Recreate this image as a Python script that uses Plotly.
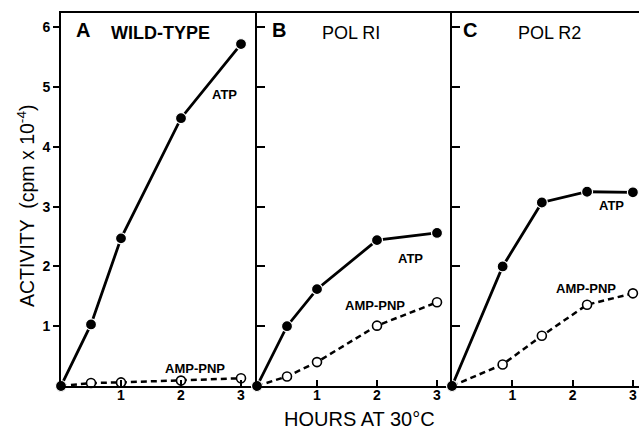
import plotly.graph_objects as go

# ---- data ----
hours_a = [0, 0.5, 1, 2, 3]
atp_a = [0, 1.03, 2.47, 4.48, 5.72]
amp_a = [0, 0.05, 0.06, 0.09, 0.13]

hours_b = [0, 0.5, 1, 2, 3]
atp_b = [0, 1.0, 1.62, 2.44, 2.56]
amp_b = [0, 0.16, 0.40, 1.01, 1.40]

hours_c = [0, 0.84, 1.49, 2.24, 3.0]
atp_c = [0, 2.0, 3.07, 3.25, 3.24]
amp_c = [0, 0.36, 0.84, 1.36, 1.55]

panel_letters = ["A", "B", "C"]
panel_names = ["WILD-TYPE", "POL RI", "POL R2"]
x_ticks = [1, 2, 3]
x_tick_labels = ["1", "2", "3"]
y_ticks = [1, 2, 3, 4, 5, 6]
y_tick_labels = ["1", "2", "3", "4", "5", "6"]

FONT = "Liberation Sans, Arial, sans-serif"

fig = go.Figure()

panels = [
    (hours_a, atp_a, amp_a, "x", "y"),
    (hours_b, atp_b, amp_b, "x2", "y2"),
    (hours_c, atp_c, amp_c, "x3", "y3"),
]
for hx, atp, amp, xa, ya in panels:
    fig.add_trace(go.Scatter(
        x=hx, y=amp, xaxis=xa, yaxis=ya, mode="lines+markers",
        line=dict(color="black", width=2.5, dash="6px,4px"),
        marker=dict(symbol="circle", size=9, color="white",
                    line=dict(color="black", width=1.6)),
        showlegend=False, cliponaxis=False))
    fig.add_trace(go.Scatter(
        x=hx, y=atp, xaxis=xa, yaxis=ya, mode="lines+markers",
        line=dict(color="black", width=2.8),
        marker=dict(symbol="circle", size=11, color="black",
                    line=dict(color="white", width=1.2)),
        showlegend=False, cliponaxis=False))

W, H = 639, 429
L, R, T, B = 61, 0, 13, 43
pw = W - L - R
ph = H - T - B
bounds = [61, 257, 452, 639]
doms = [[(bounds[i] - L) / pw, (bounds[i + 1] - L) / pw] for i in range(3)]
xranges = [[0, 196 / 60.0], [0, 195 / 60.0], [0, 187 / 60.3]]
yrange = [0, 6.24]

tickfont = dict(family=FONT, size=14, color="black", weight="bold")

layout = dict(
    template="none",
    width=W, height=H,
    margin=dict(l=L, r=R, t=T, b=B, pad=0),
    plot_bgcolor="white", paper_bgcolor="white",
    showlegend=False,
)
for i in range(3):
    sfx = "" if i == 0 else str(i + 1)
    layout["xaxis" + sfx] = dict(
        domain=doms[i], range=xranges[i], anchor="y" + sfx,
        automargin=False,
        showgrid=False, zeroline=False, showline=True, linecolor="black",
        linewidth=2, mirror=True,
        tickmode="array", tickvals=x_ticks, ticktext=x_tick_labels,
        ticks="inside", ticklen=6, tickwidth=2, tickcolor="black",
        tickfont=tickfont, ticklabelstandoff=-5,
    )
    layout["yaxis" + sfx] = dict(
        domain=[0, 1], range=yrange, anchor="x" + sfx,
        automargin=False,
        showgrid=False, zeroline=False, showline=True, linecolor="black",
        linewidth=2,
        tickmode="array", tickvals=y_ticks, ticktext=y_tick_labels,
        ticks="outside" if i == 0 else "inside",
        ticklen=6 if i == 0 else 8, tickwidth=2, tickcolor="black",
        showticklabels=(i == 0), tickfont=tickfont,
    )

fig.update_layout(**layout)

# panel titles
letter_x = [0.37, 0.37, 0.3]
name_x = [1.65, 1.57, 1.62]
for i in range(3):
    sfx = "" if i == 0 else str(i + 1)
    fig.add_annotation(x=letter_x[i], y=5.95, xref="x" + sfx, yref="y" + sfx,
                       text="<b>" + panel_letters[i] + "</b>", showarrow=False,
                       xanchor="center", yanchor="middle",
                       font=dict(family=FONT, size=20, color="black"))
    nm = "<b>" + panel_names[i] + "</b>" if i == 0 else panel_names[i]
    fig.add_annotation(x=name_x[i], y=5.9, xref="x" + sfx, yref="y" + sfx,
                       text=nm, showarrow=False,
                       xanchor="center", yanchor="middle",
                       font=dict(family=FONT, size=18, color="black"))

# curve labels
curve_labels = [
    ("ATP", 2.72, 4.88, "x", "y"),
    ("AMP-PNP", 2.23, 0.30, "x", "y"),
    ("ATP", 2.55, 2.14, "x2", "y2"),
    ("AMP-PNP", 1.97, 1.35, "x2", "y2"),
    ("ATP", 2.64, 3.02, "x3", "y3"),
    ("AMP-PNP", 2.22, 1.63, "x3", "y3"),
]
for txt, xx, yy, xr, yr in curve_labels:
    fig.add_annotation(x=xx, y=yy, xref=xr, yref=yr, text="<b>" + txt + "</b>",
                       showarrow=False, xanchor="center", yanchor="middle",
                       font=dict(family=FONT, size=13, color="black"))

# axis titles (positioned in pixel terms converted to paper fractions)
fig.add_annotation(x=(26 - L) / pw, y=(H - B - 206) / ph, xref="paper", yref="paper",
                   text="ACTIVITY  (cpm x 10<sup>-4</sup>)", textangle=-90, showarrow=False,
                   xanchor="center", yanchor="middle",
                   font=dict(family=FONT, size=19.5, color="black"))
fig.add_annotation(x=(359 - L) / pw, y=-(419 - (H - B)) / ph, xref="paper", yref="paper",
                   text="HOURS AT 30°C", showarrow=False,
                   xanchor="center", yanchor="middle",
                   font=dict(family=FONT, size=20, color="black"))

fig.write_html("out.html", config={"displayModeBar": False},
               post_script="document.body.style.margin='0';")
